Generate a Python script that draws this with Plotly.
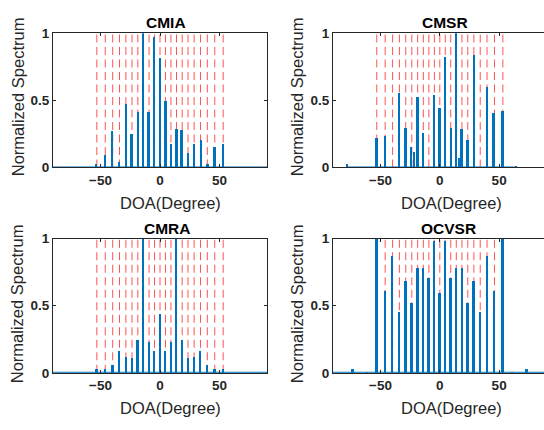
import plotly.graph_objects as go

# True DOAs (degrees), drawn as red dashed reference lines
doa = [-53.13, -46.05, -39.79, -34.06, -28.69, -23.58, -18.66, -13.89, -9.21, -4.59, 0.0,
       4.59, 9.21, 13.89, 18.66, 23.58, 28.69, 34.06, 39.79, 46.05, 53.13]

# CMIA spectrum peaks
cmia_x = [-53.6, -45.9, -40.1, -34.5, -28.6, -23.7, -18.6, -13.9, -9.5, -4.8, 0.0,
          4.8, 9.5, 14.2, 18.4, 24.0, 28.8, 34.5, 40.1, 46.1, 52.9]
cmia_y = [0.02, 0.09, 0.27, 0.04, 0.47, 0.25, 0.41, 1.0, 0.41, 0.97, 0.81,
          0.49, 0.17, 0.285, 0.28, 0.105, 0.175, 0.205, 0.02, 0.15, 0.175]
cmia_span = [-90, 90]

# CMSR spectrum peaks
cmsr_x = [-77.8, -53.1, -46.2, -34.2, -28.8, -24.0, -21.4, -18.6, -14.1, -4.8, 0.0,
          4.8, 9.4, 13.9, 16.1, 18.6, 23.5, 28.8, 39.8, 45.5, 53.1, 64.4]
cmsr_y = [0.02, 0.215, 0.235, 0.55, 0.29, 0.15, 0.112, 0.522, 0.256, 0.538, 0.442,
          0.818, 0.293, 1.0, 0.07, 0.288, 0.2, 0.838, 0.594, 0.402, 0.422, 0.01]
cmsr_span = [-77.8, 64.4]

# CMRA spectrum peaks (at the true DOAs)
cmra_x = doa
cmra_y = [0.03, 0.033, 0.062, 0.167, 0.119, 0.112, 0.25, 1.0, 0.231, 0.167, 0.44,
          0.167, 0.231, 1.0, 0.25, 0.112, 0.119, 0.167, 0.062, 0.033, 0.03]
cmra_span = [-90, 90]

# OCVSR spectrum peaks
ocvsr_x = [-73.3, -60.9] + doa + [60.9, 73.3]
ocvsr_y = [0.031, 0.005] + [1.0, 0.61, 0.87, 0.458, 0.684, 0.522, 0.787, 0.781, 0.711, 0.988, 0.595,
                            0.988, 0.711, 0.781, 0.787, 0.522, 0.684, 0.458, 0.87, 0.61, 1.0] + [0.005, 0.031]
ocvsr_span = [-90, 90]

titles = ["CMIA", "CMSR", "CMRA", "OCVSR"]
x_label = "DOA(Degree)"
y_label = "Normalized Spectrum"
x_ticks = [-50, 0, 50]
y_ticks = [0, 0.5, 1]

W, H = 544, 430
BLUE = "#0072BD"
INK = "#262626"
FONT = "Liberation Sans"

panels = [
    (cmia_x, cmia_y, cmia_span),
    (cmsr_x, cmsr_y, cmsr_span),
    (cmra_x, cmra_y, cmra_span),
    (ocvsr_x, ocvsr_y, ocvsr_span),
]

# pixel geometry of each panel: (left, right, top, bottom, x-range-end)
geom = [
    (53, 267, 27.3, 166.3, 90),
    (333, 544, 27.3, 166.3, 87.8),
    (53, 267, 240, 379, 90),
    (333, 544, 240, 379, 87.8),
]
title_pos = [(165.5, 16), (444.5, 16), (167.5, 230), (448, 230)]
xlab_pos = [(170.3, 203), (451, 203), (170.7, 415), (451, 415)]
ylab_pos = [(18, 93.5), (297, 93.5), (17, 308), (297, 308)]

fig = go.Figure()
layout = dict(
    width=W, height=H, margin=dict(l=0, r=0, t=0, b=0),
    paper_bgcolor="white", plot_bgcolor="white", showlegend=False,
    font=dict(family=FONT, color=INK),
)
shapes = []
annotations = []

for i, ((px, py, span), (l, r, t, b, xend)) in enumerate(zip(panels, geom)):
    n = "" if i == 0 else str(i + 1)
    xa, ya = "x" + n, "y" + n
    fig.add_trace(go.Scatter(x=span, y=[0, 0], mode="lines", line=dict(color=BLUE, width=2.2),
                             xaxis=xa, yaxis=ya, hoverinfo="skip"))
    fig.add_trace(go.Bar(x=px, y=py, width=1.5, marker=dict(color=BLUE, line=dict(width=0)),
                         xaxis=xa, yaxis=ya))
    right_panel = i in (1, 3)
    layout["xaxis" + n] = dict(
        domain=[l / W, r / W], range=[-90, xend], anchor=ya,
        tickvals=x_ticks, ticks="inside", ticklen=3, tickcolor=INK,
        showline=True, linecolor=INK, linewidth=1, mirror="ticks",
        showgrid=False, zeroline=False,
        tickfont=dict(family=FONT, size=13.5, color=INK, weight="bold"),
    )
    layout["yaxis" + n] = dict(
        domain=[1 - b / H, 1 - t / H], range=[0, 1], anchor=xa,
        tickvals=y_ticks, ticktext=["0", "0.5", "1"], ticks="inside", ticklen=3, tickcolor=INK,
        showline=True, linecolor=INK, linewidth=1, mirror=False if right_panel else "ticks",
        showgrid=False, zeroline=False,
        tickfont=dict(family=FONT, size=13.5, color=INK, weight="bold"),
    )
    for d in doa:
        shapes.append(dict(type="line", xref=xa, yref=ya, x0=d, x1=d, y0=0, y1=1, layer="below",
                           line=dict(color="rgba(255,0,0,0.68)", width=1, dash="8px,4.5px")))
    tx, ty = title_pos[i]
    annotations.append(dict(text="<b>" + titles[i] + "</b>", x=tx / W, y=1 - ty / H, xref="paper", yref="paper",
                            showarrow=False, xanchor="center", yanchor="middle",
                            font=dict(family=FONT, size=15.5, color="black")))
    lx, ly = xlab_pos[i]
    annotations.append(dict(text=x_label, x=lx / W, y=1 - ly / H, xref="paper", yref="paper",
                            showarrow=False, xanchor="center", yanchor="middle",
                            font=dict(family=FONT, size=16.5, color=INK)))
    yx, yy = ylab_pos[i]
    annotations.append(dict(text=y_label, x=yx / W, y=1 - yy / H, xref="paper", yref="paper",
                            showarrow=False, xanchor="center", yanchor="middle", textangle=-90,
                            font=dict(family=FONT, size=16.5, color=INK)))

layout["shapes"] = shapes
layout["annotations"] = annotations
layout["bargap"] = 0
fig.update_layout(**layout)
fig.write_html("out.html")
